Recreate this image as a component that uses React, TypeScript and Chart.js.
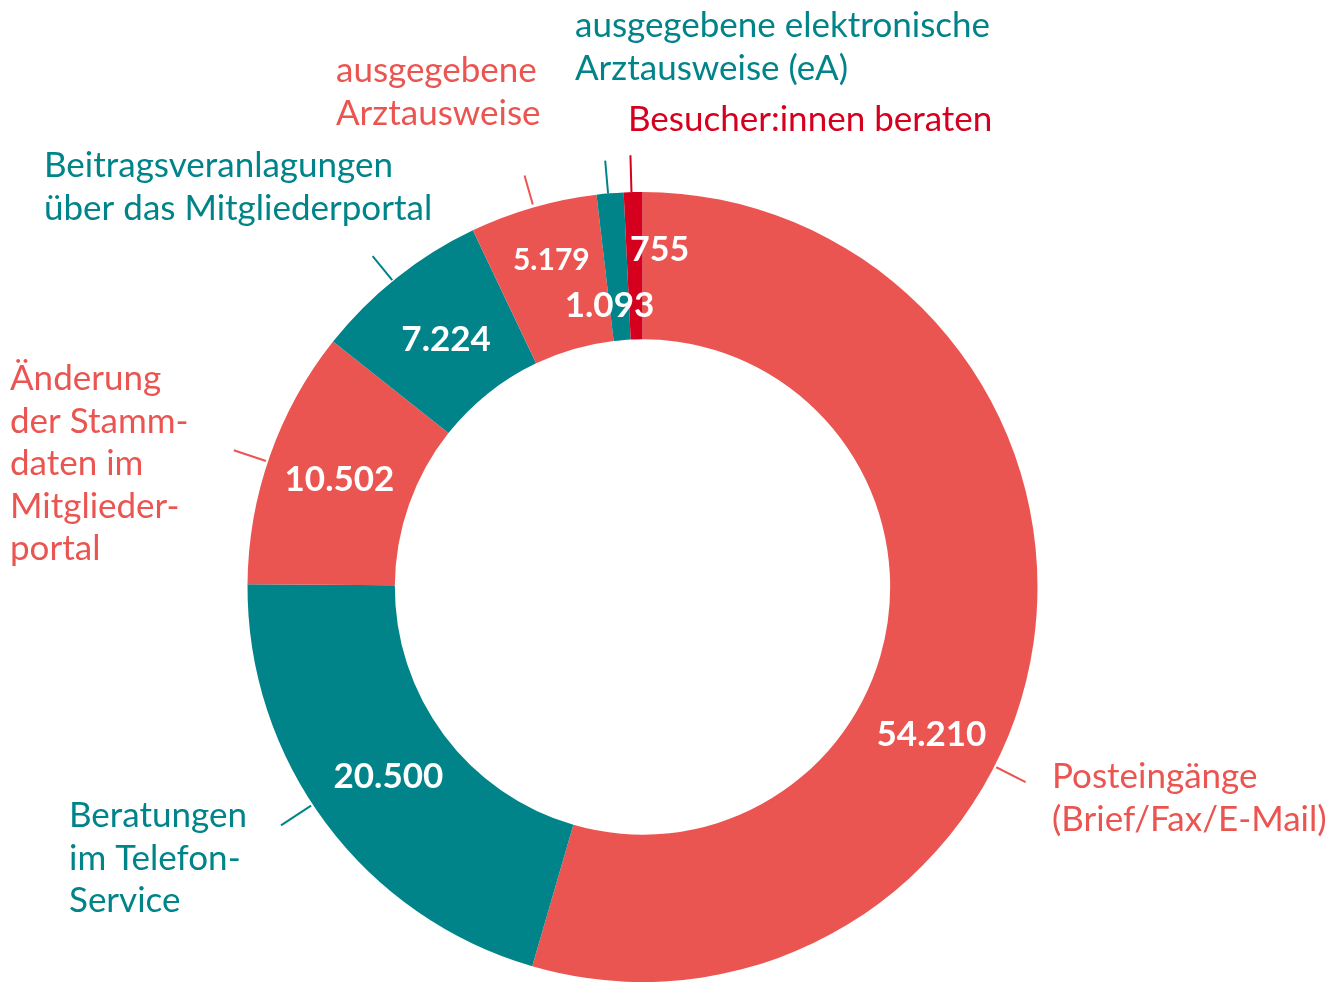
import React, { useEffect, useRef } from "react";
import { Chart, registerables } from "chart.js";

Chart.register(...registerables);

// ---- Data ----
const categories: string[][] = [
  ["Posteingänge", "(Brief/Fax/E-Mail)"],
  ["Beratungen", "im Telefon-", "Service"],
  ["Änderung", "der Stamm-", "daten im", "Mitglieder-", "portal"],
  ["Beitragsveranlagungen", "über das Mitgliederportal"],
  ["ausgegebene", "Arztausweise"],
  ["ausgegebene elektronische", "Arztausweise (eA)"],
  ["Besucher:innen beraten"],
];
const values = [54210, 20500, 10502, 7224, 5179, 1093, 755];
const valueLabels = ["54.210", "20.500", "10.502", "7.224", "5.179", "1.093", "755"];

const CORAL = "#EB5551";
const TEAL = "#00848A";
const RED = "#D4001E";
const colors = [CORAL, TEAL, CORAL, TEAL, CORAL, TEAL, RED];

// ---- Layout / style (not data) ----
const FONT = "Lato, 'Noto Sans', sans-serif";
// value label placement: angle (deg clockwise from top, null = mid), ring fraction, font size
const valuePlacement = [
  { angle: 117, frac: 0.52, size: 35 },
  { angle: null, frac: 0.47, size: 35 },
  { angle: null, frac: 0.5, size: 35 },
  { angle: null, frac: 0.46, size: 35 },
  { angle: 344.4, frac: 0.62, size: 30 },
  { angle: 353.3, frac: 0.24, size: 35 },
  { angle: 2.9, frac: 0.61, size: 34 },
];
// leader lines: angle, extension beyond outer radius
const leaders = [
  { angle: 117, r0: 2, r1: 35 },
  { angle: 236.6, r0: 2, r1: 38 },
  { angle: 288.5, r0: 2, r1: 36 },
  { angle: 320.8, r0: 1, r1: 32 },
  { angle: 344, r0: 3, r1: 33 },
  { angle: 355, r0: 0, r1: 33 },
  { angle: 358.4, r0: 0, r1: 37 },
];
// outer category labels: left x, first baseline y
const textPlacement = [
  { x: 1052, y: 788 },
  { x: 69, y: 827 },
  { x: 10, y: 390 },
  { x: 44, y: 177 },
  { x: 336, y: 82 },
  { x: 575, y: 37 },
  { x: 628, y: 131 },
];
const LINE_H = 42.5;
const TEXT_SIZE = 35;

const labelPlugin = {
  id: "customLabels",
  afterDraw(chart: any) {
    const ctx = chart.ctx as CanvasRenderingContext2D;
    const meta = chart.getDatasetMeta(0);
    ctx.save();
    meta.data.forEach((arc: any, i: number) => {
      const { x, y, outerRadius } = arc;
      const col = colors[i];
      // leader line
      const L = leaders[i];
      const la = (L.angle - 90) * Math.PI / 180;
      ctx.strokeStyle = col;
      ctx.lineWidth = 2;
      ctx.beginPath();
      ctx.moveTo(x + (outerRadius + L.r0) * Math.cos(la), y + (outerRadius + L.r0) * Math.sin(la));
      ctx.lineTo(x + (outerRadius + L.r1) * Math.cos(la), y + (outerRadius + L.r1) * Math.sin(la));
      ctx.stroke();
      // outer text
      const T = textPlacement[i];
      ctx.fillStyle = col;
      ctx.font = `400 ${TEXT_SIZE}px ${FONT}`;
      ctx.textAlign = "left";
      ctx.textBaseline = "alphabetic";
      categories[i].forEach((line, k) => {
        ctx.fillText(line, T.x, T.y + k * LINE_H);
      });
    });
    // value labels on top
    meta.data.forEach((arc: any, i: number) => {
      const { x, y, startAngle, endAngle, innerRadius, outerRadius } = arc;
      const P = valuePlacement[i];
      const a = P.angle === null ? (startAngle + endAngle) / 2 : (P.angle - 90) * Math.PI / 180;
      const r = innerRadius + (outerRadius - innerRadius) * P.frac;
      ctx.fillStyle = "#FFFFFF";
      ctx.font = `700 ${P.size}px ${FONT}`;
      ctx.textAlign = "center";
      ctx.textBaseline = "middle";
      ctx.fillText(valueLabels[i], x + r * Math.cos(a), y + r * Math.sin(a));
    });
    ctx.restore();
  },
};

export default function App() {
  const ref = useRef<HTMLCanvasElement | null>(null);
  useEffect(() => {
    if (!ref.current) return;
    const chart = new Chart(ref.current, {
      type: "doughnut",
      data: {
        labels: categories.map((c) => c.join(" ")),
        datasets: [
          {
            data: values,
            backgroundColor: colors,
            borderWidth: 0,
            hoverOffset: 0,
          },
        ],
      },
      options: {
        responsive: false,
        animation: false,
        cutout: "62.7%",
        layout: { padding: { left: 247, top: 192, right: 289, bottom: 1 } },
        plugins: { legend: { display: false }, tooltip: { enabled: false } },
      },
      plugins: [labelPlugin],
    });
    return () => chart.destroy();
  }, []);
  return (
    <div style={{ position: "absolute", left: 0, top: 0, width: 1327, height: 983, background: "#fff" }}>
      <canvas ref={ref} width={1327} height={983} style={{ display: "block" }} />
    </div>
  );
}
